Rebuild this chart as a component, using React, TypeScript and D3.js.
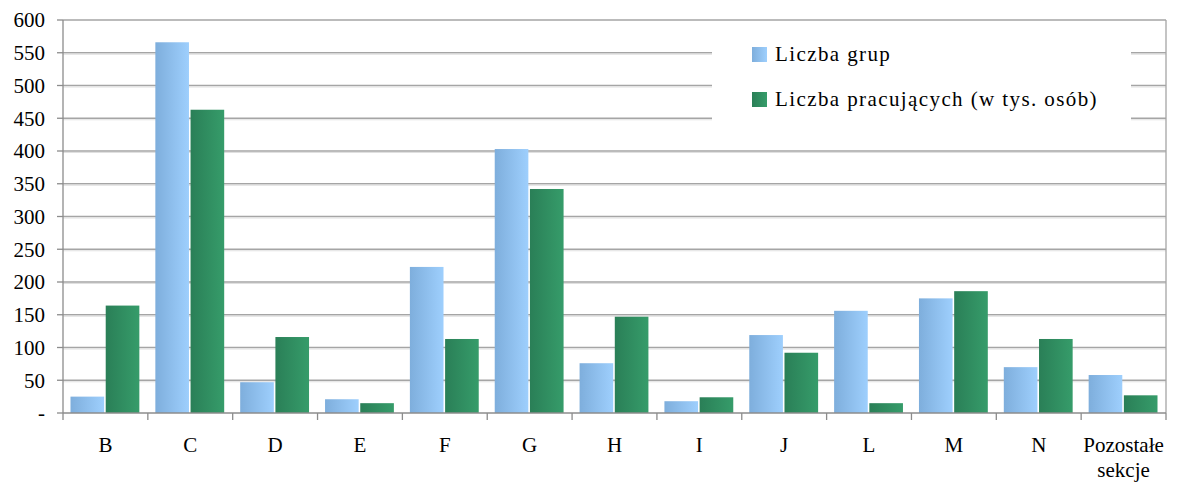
import * as d3 from "d3";
import React from "react";

// ── Data ──────────────────────────────────────────────────────────────────────
const categories = ["B", "C", "D", "E", "F", "G", "H", "I", "J", "L", "M", "N", "Pozostałe sekcje"];
const liczbaGrup = [25, 566, 47, 21, 223, 403, 76, 18, 119, 156, 175, 70, 58];
const liczbaPracujacych = [164, 463, 116, 15, 113, 342, 147, 24, 92, 15, 186, 113, 27];
const yTicks = [0, 50, 100, 150, 200, 250, 300, 350, 400, 450, 500, 550, 600];
const seriesNames = ["Liczba grup", "Liczba pracujących (w tys. osób)"];

const W = 1179;
const H = 484;
const M = { left: 63, right: 13, top: 20, bottom: 71 };
const FONT = '"Liberation Serif", "Times New Roman", serif';

export default function App() {
  const x = d3
    .scaleBand<string>()
    .domain(categories)
    .range([M.left, W - M.right]);
  const inner = d3
    .scaleBand<number>()
    .domain([0, 1])
    .range([7.5, x.bandwidth() - 8.5])
    .paddingInner(0.045);
  const y = d3.scaleLinear().domain([0, 600]).range([H - M.bottom, M.top]);

  const series = [liczbaGrup, liczbaPracujacych];
  const fills = ["url(#gBlue)", "url(#gGreen)"];
  const x0 = M.left;
  const x1 = W - M.right;
  const y0 = y(0);

  return (
    <svg
      width={W}
      height={H}
      style={{ position: "absolute", left: 0, top: 0, background: "#fff", fontFamily: FONT }}
    >
      <defs>
        <linearGradient id="gBlue" x1="0" x2="1" y1="0" y2="0">
          <stop offset="0" stopColor="#7eaedc" />
          <stop offset="1" stopColor="#9ecffd" />
        </linearGradient>
        <linearGradient id="gGreen" x1="0" x2="1" y1="0" y2="0">
          <stop offset="0" stopColor="#2a7f57" />
          <stop offset="1" stopColor="#369c6a" />
        </linearGradient>
      </defs>

      {/* gridlines */}
      {yTicks.slice(1, -1).map((t) => (
        <g key={t}>
          <line x1={x0} x2={x1} y1={y(t)} y2={y(t)} stroke="#a5a5a5" strokeWidth={1.3} />
          <line x1={x0} x2={x1} y1={y(t) + 1.5} y2={y(t) + 1.5} stroke="#e0e0e0" strokeWidth={1} />
        </g>
      ))}

      {/* plot border */}
      <line x1={x0} x2={x1} y1={M.top} y2={M.top} stroke="#a5a5a5" strokeWidth={1.3} />
      <line x1={x1} x2={x1} y1={M.top} y2={y0} stroke="#a5a5a5" strokeWidth={1.3} />

      {/* legend backdrop */}
      <rect x={712} y={36} width={419} height={86} fill="#fff" />

      {/* bars */}
      {series.map((vals, si) =>
        categories.map((c, i) => (
          <rect
            key={`${si}-${c}`}
            x={(x(c) ?? 0) + (inner(si) ?? 0)}
            y={y(vals[i])}
            width={inner.bandwidth()}
            height={y0 - y(vals[i])}
            fill={fills[si]}
          />
        ))
      )}

      {/* axes */}
      <line x1={x0} x2={x0} y1={M.top} y2={y0} stroke="#8c8c8c" strokeWidth={1.3} />
      <line x1={x0} x2={x1} y1={y0} y2={y0} stroke="#8c8c8c" strokeWidth={1.6} />
      {yTicks.map((t) => (
        <g key={t}>
          <line x1={x0 - 6} x2={x0} y1={y(t)} y2={y(t)} stroke="#8c8c8c" strokeWidth={1.3} />
          <text x={45} y={y(t)} dy="0.35em" textAnchor="end" fontSize={21} fill="#000">
            {t === 0 ? "-" : t}
          </text>
        </g>
      ))}
      {categories.map((c) => (
        <line key={c} x1={x(c) ?? 0} x2={x(c) ?? 0} y1={y0} y2={y0 + 7} stroke="#8c8c8c" strokeWidth={1.3} />
      ))}
      <line x1={x1} x2={x1} y1={y0} y2={y0 + 7} stroke="#8c8c8c" strokeWidth={1.3} />
      {categories.map((c) => {
        const cx = (x(c) ?? 0) + x.bandwidth() / 2;
        const lines = c.split(" ");
        return (
          <text key={c} x={cx} y={452} textAnchor="middle" fontSize={21} fill="#000">
            {lines.map((l, k) => (
              <tspan key={k} x={cx} dy={k === 0 ? 0 : 25}>
                {l}
              </tspan>
            ))}
          </text>
        );
      })}

      {/* legend */}
      {seriesNames.map((n, i) => (
        <g key={n} transform={`translate(752, ${47 + i * 45})`}>
          <rect width={15} height={15} fill={fills[i]} />
          <text x={23} y={14} fontSize={21} fill="#000" letterSpacing={1.4}>
            {n}
          </text>
        </g>
      ))}
    </svg>
  );
}
